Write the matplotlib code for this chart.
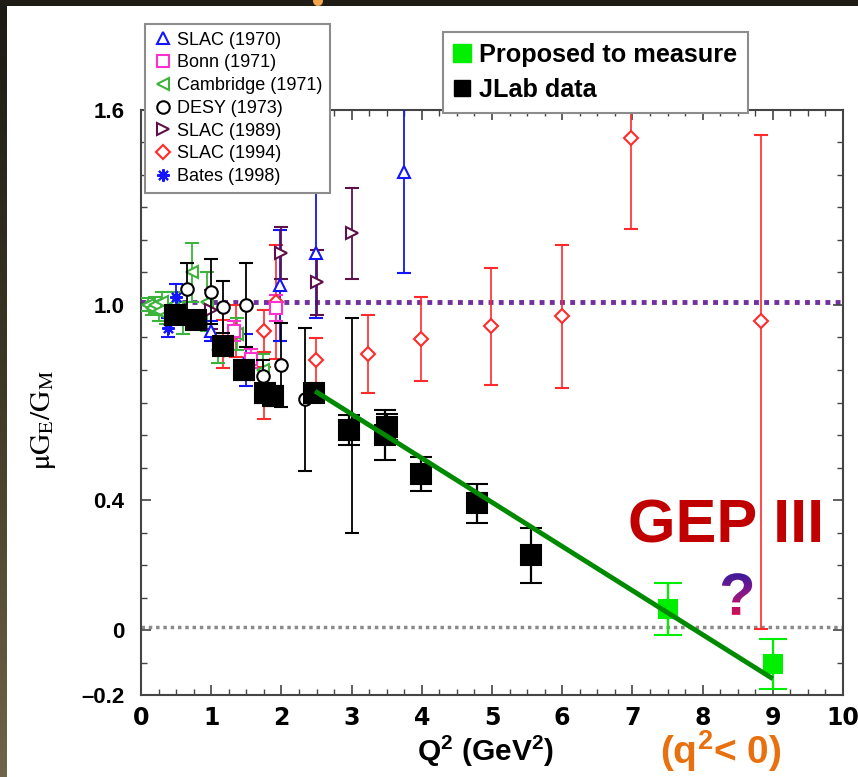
import numpy as np
import matplotlib
matplotlib.use('Agg')
from matplotlib import pyplot as plt
from matplotlib.lines import Line2D
from matplotlib.patches import PathPatch, Rectangle, Circle
from matplotlib.textpath import TextPath
from matplotlib.font_manager import FontProperties
from matplotlib.transforms import Affine2D
from matplotlib.colors import LinearSegmentedColormap
from matplotlib.ticker import MultipleLocator, FixedLocator

plt.rcParams['mathtext.fontset'] = 'custom'
plt.rcParams['mathtext.rm'] = 'Liberation Sans:bold'
plt.rcParams['mathtext.bf'] = 'Liberation Sans:bold'
plt.rcParams['mathtext.it'] = 'Liberation Sans:bold'

# ---- data (Q^2 in GeV^2, mu*GE/GM) ----
slac70_q2 = [1.0, 1.5, 1.98, 2.49, 3.75]
slac70_r = [0.92, 0.83, 1.06, 1.16, 1.41]
slac70_e = [0.03, 0.08, 0.17, 0.20, 0.31]

bonn_q2 = [1.33, 1.56, 1.93]
bonn_r = [0.92, 0.835, 0.99]
bonn_e = [0.03, 0.03, 0.04]

camb_q2 = [0.10, 0.15, 0.20, 0.25, 0.30, 0.35, 0.45, 0.60, 0.72, 0.94, 1.10, 1.37, 1.74]
camb_r = [1.00, 0.99, 1.00, 0.98, 1.01, 0.97, 1.00, 0.96, 1.10, 1.01, 0.86, 0.91, 0.80]
camb_e = [0.02, 0.02, 0.025, 0.03, 0.03, 0.03, 0.04, 0.05, 0.09, 0.09, 0.04, 0.05, 0.05]

desy_q2 = [0.66, 1.0, 1.17, 1.5, 1.74, 2.0, 2.33, 3.0]
desy_r = [1.05, 1.04, 0.995, 1.0, 0.78, 0.815, 0.71, 0.63]
desy_e = [0.08, 0.10, 0.08, 0.13, 0.05, 0.13, 0.22, 0.33]

slac89_q2 = [1.0, 2.0, 2.5, 3.0]
slac89_r = [0.985, 1.16, 1.07, 1.22]
slac89_e = [0.06, 0.08, 0.10, 0.14]

slac94_q2 = [1.17, 1.35, 1.75, 1.75, 1.93, 2.49, 3.23, 3.99, 4.99, 6.0, 6.98, 8.83]
slac94_r = [0.88, 0.92, 0.73, 0.92, 1.01, 0.83, 0.85, 0.895, 0.935, 0.965, 1.515, 0.952]
slac94_elo = [0.075, 0.08, 0.08, 0.065, 0.175, 0.07, 0.12, 0.13, 0.18, 0.22, 0.28, 0.95]
slac94_ehi = [0.075, 0.08, 0.08, 0.065, 0.175, 0.07, 0.12, 0.13, 0.18, 0.22, 0.28, 0.57]

bates_q2 = [0.38, 0.50]
bates_r = [0.93, 1.026]
bates_e = [0.03, 0.04]

jlab_q2 = [0.49, 0.78, 1.17, 1.47, 1.76, 1.88, 2.47, 2.97, 3.47, 3.50, 3.99, 4.79, 5.56]
jlab_r = [0.97, 0.955, 0.875, 0.80, 0.73, 0.72, 0.73, 0.615, 0.60, 0.625, 0.48, 0.39, 0.23]
jlab_e = [0.02, 0.02, 0.025, 0.03, 0.03, 0.03, 0.025, 0.045, 0.078, 0.04, 0.053, 0.06, 0.085]

prop_q2 = [7.5, 9.0]
prop_r = [0.065, -0.105]
prop_e = [0.08, 0.077]

fit_q2 = [2.48, 9.0]
fit_r = [0.735, -0.15]

yticks = [-0.2, 0.0, 0.4, 1.0, 1.6]
ytick_labels = ['\u20130.2', '0', '0.4', '1.0', '1.6']

W, H = 858, 777
fig = plt.figure(figsize=(W / 100, H / 100), dpi=100)
ax = fig.add_axes([141 / W, 1 - 695 / H, (843 - 141) / W, (695 - 110) / H])


def errbar(x, y, e, color, marker, ms, capsize=5, lw=1.3, z=3, mfc='white'):
    ax.errorbar(x, y, yerr=e, fmt='', marker=marker, ls='none', color=color,
                mec=color, mfc=mfc, ms=ms, mew=1.5, capsize=capsize,
                elinewidth=lw, capthick=lw, zorder=z)


blue = '#1414ff'
magenta = '#ff30d0'
green = '#3cb43c'
maroon = '#5e1049'
red = '#ff2a2a'

ax.axhline(1.01, color='#7030a0', lw=3.5, ls=(0, (1, 1.1)), zorder=1.5)
ax.axhline(0.01, color='#8a8a8a', lw=2.5, ls=(0, (1, 1.1)), zorder=1.5)

errbar(slac94_q2, slac94_r, [slac94_elo, slac94_ehi], red, 'D', 7, lw=1.2)
errbar(camb_q2, camb_r, camb_e, green, '<', 9)
errbar(slac70_q2, slac70_r, slac70_e, blue, '^', 9)
errbar(slac89_q2, slac89_r, slac89_e, maroon, '>', 9)
errbar(bonn_q2, bonn_r, bonn_e, magenta, 's', 8)
errbar(bates_q2, bates_r, bates_e, blue, (8, 2, 0), 9)
errbar(desy_q2, desy_r, desy_e, 'black', 'o', 9, z=3.5)

ax.plot(fit_q2, fit_r, color='#008a00', lw=3.5, zorder=5, solid_capstyle='butt')
errbar(jlab_q2, jlab_r, jlab_e, 'black', 's', 14, capsize=8, lw=1.6, z=4, mfc='black')
errbar(prop_q2, prop_r, prop_e, '#00ee00', 's', 13, capsize=10, lw=1.6, z=4, mfc='#00ee00')

ax.set_xlim(0, 10)
ax.set_ylim(-0.2, 1.6)
ax.xaxis.set_major_locator(MultipleLocator(1))
ax.xaxis.set_minor_locator(MultipleLocator(0.25))
ax.yaxis.set_major_locator(FixedLocator(yticks))
ax.yaxis.set_minor_locator(MultipleLocator(0.1))
ax.set_yticklabels(ytick_labels)
ax.tick_params(which='both', direction='in', top=True, right=True, color='#444444')
ax.tick_params(which='major', length=7, width=1.2)
ax.tick_params(which='minor', length=4, width=1.0)
ax.tick_params(axis='y', pad=12)
ax.tick_params(axis='x', pad=8)
for lab in ax.get_xticklabels():
    lab.set_fontproperties(FontProperties(family='Liberation Sans Narrow', weight='bold', size=17))
for lab in ax.get_yticklabels():
    lab.set_fontproperties(FontProperties(family='Liberation Sans', weight='bold', size=16))
for sp in ax.spines.values():
    sp.set_color('#444444')
    sp.set_linewidth(1.5)

# legends
open_kw = dict(ls='none', mfc='white', mew=1.5, ms=9)
h1 = [Line2D([], [], marker='^', color=blue, **open_kw),
      Line2D([], [], marker='s', color=magenta, **dict(open_kw, ms=8)),
      Line2D([], [], marker='<', color=green, **open_kw),
      Line2D([], [], marker='o', color='black', **open_kw),
      Line2D([], [], marker='>', color=maroon, **open_kw),
      Line2D([], [], marker='D', color=red, **dict(open_kw, ms=7)),
      Line2D([], [], marker=(8, 2, 0), color=blue, **open_kw)]
l1_labels = ['SLAC (1970)', 'Bonn (1971)', 'Cambridge (1971)', 'DESY (1973)',
             'SLAC (1989)', 'SLAC (1994)', 'Bates (1998)']
leg1 = ax.legend(h1, l1_labels, loc='upper left', bbox_to_anchor=(145 / W, 1 - 24 / H),
                 bbox_transform=fig.transFigure, borderaxespad=0, fancybox=False,
                 framealpha=1, edgecolor='#8c8c8c', handlelength=1.2, handletextpad=0.15,
                 labelspacing=0.32, borderpad=0.42,
                 prop=FontProperties(family='Liberation Sans', size=13))
leg1.get_frame().set_linewidth(1.5)
ax.add_artist(leg1)

h2 = [Line2D([], [], marker='s', ls='none', color='#00ee00', ms=13),
      Line2D([], [], marker='s', ls='none', color='black', ms=12)]
leg2 = ax.legend(h2, ['Proposed to measure', 'JLab data'], loc='upper left',
                 bbox_to_anchor=(443 / W, 1 - 32 / H), bbox_transform=fig.transFigure,
                 borderaxespad=0, fancybox=False, framealpha=1, edgecolor='#8c8c8c',
                 handlelength=0.7, handletextpad=0.3, labelspacing=0.45, borderpad=0.42,
                 prop=FontProperties(family='Liberation Sans', weight='bold', size=18.2))
leg2.get_frame().set_linewidth(1.5)

# overlay in pixel coordinates for the annotations and the border
ov = fig.add_axes([0, 0, 1, 1], zorder=10)
ov.set_axis_off()
ov.patch.set_alpha(0)

edge_cmap = LinearSegmentedColormap.from_list('edge', ['#1c1a14', '#3e3826', '#6e6648'])
ov.imshow(np.linspace(0, 1, 256).reshape(-1, 1), cmap=edge_cmap, aspect='auto',
          extent=(0, 7, H, 0), origin='upper')
ov.add_patch(Rectangle((0, 0), W, 6, color='#1f1b15', lw=0))
ov.add_patch(Circle((318, 1), 5, color='#f2a54a', lw=0))

ov.text(726, 527, 'GEP III', ha='center', va='center', color='#c00000',
        fontsize=44, fontweight='bold', family='Liberation Sans')

# question mark with a vertical purple-to-crimson gradient
k = 100 / 72
qpath = TextPath((0, 0), '?', size=43, prop=FontProperties(family='Liberation Sans', weight='bold'))
ext = qpath.get_extents()
qtr = Affine2D().translate(-(ext.x0 + ext.x1) / 2, -(ext.y0 + ext.y1) / 2).scale(k, -k).translate(737, 594)
qpatch = PathPatch(qpath, transform=qtr + ov.transData, facecolor='none', edgecolor='none')
ov.add_patch(qpatch)
qbox = qpath.get_extents(qtr)
q_cmap = LinearSegmentedColormap.from_list('q', ['#3a1a9c', '#8a1888', '#d41050'])
qimg = ov.imshow(np.linspace(0, 1, 256).reshape(-1, 1), cmap=q_cmap, aspect='auto',
                 extent=(qbox.x0, qbox.x1, qbox.y1, qbox.y0), origin='upper')
qimg.set_clip_path(qpatch)

ov.text(486, 751, r'Q$^2$ (GeV$^2$)', ha='center', va='center', fontsize=21.5,
        fontweight='bold', family='Liberation Sans')
qt = ov.text(721, 751, r'(q$^2$< 0)', ha='center', va='center', fontsize=28,
             fontweight='bold', color='#e8700e', family='Liberation Sans')
qt.set_clip_path(Rectangle((0, 0), W, 768, transform=ov.transData))

ov.text(43, 420, r'$\mathrm{\mu G_E/G_M}$', rotation=90, ha='center', va='center',
        fontsize=21, math_fontfamily='stix')

ov.set_xlim(0, W)
ov.set_ylim(H, 0)

fig.savefig('out.png', dpi=100)
